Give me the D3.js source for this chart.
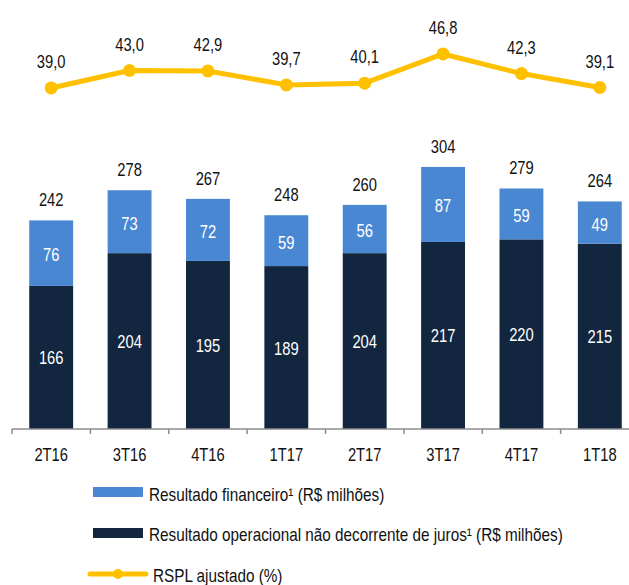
<!DOCTYPE html>
<html>
  <head>
    <meta charset="utf-8" />
    <style>
      body{
        margin: 0;
        background: white;
      }
      text{
        font-family: 'Liberation Sans', Arial, sans-serif;
        font-size: 18px;
      }
    </style>
  </head>
  <body>
    <script src="https://d3js.org/d3.v7.min.js"></script>
    <svg id="chart"></svg>
    <script>
      var quarters = ["2T16", "3T16", "4T16", "1T17", "2T17", "3T17", "4T17", "1T18"];
      var financeiro = [76, 73, 72, 59, 56, 87, 59, 49];
      var operacional = [166, 204, 195, 189, 204, 217, 220, 215];
      var totals = [242, 278, 267, 248, 260, 304, 279, 264];
      var rspl = [39.0, 43.0, 42.9, 39.7, 40.1, 46.8, 42.3, 39.1];
      var legendLabels = [
        "Resultado financeiro¹ (R$ milhões)",
        "Resultado operacional não decorrente de juros¹ (R$ milhões)",
        "RSPL ajustado (%)"
      ];

      var width = 629;
      var height = 585;
      var blue = "#4a87d3";
      var navy = "#13263f";
      var yellow = "#ffc000";

      var svg = d3.select("#chart")
        .attr("width", width)
        .attr("height", height);

      var x = d3.scaleBand()
        .domain(quarters)
        .range([12, 639])
        .paddingInner(0.44)
        .paddingOuter(0.22);

      var y = d3.scaleLinear().domain([0, 350]).range([429, 127.3]);
      var yLine = d3.scaleLinear().domain([30, 50]).range([127.2, 40]);

      var rows = quarters.map(function (q, i) {
        return { q: q, fin: financeiro[i], op: operacional[i], total: totals[i], rspl: rspl[i] };
      });

      var gap = (x.step() - x.bandwidth()) / 2;

      // bars
      svg.selectAll(".op")
        .data(rows)
        .enter()
        .append("rect")
        .attr("x", function (d) { return x(d.q); })
        .attr("y", function (d) { return y(d.op); })
        .attr("width", x.bandwidth())
        .attr("height", function (d) { return y(0) - y(d.op); })
        .attr("fill", navy);

      svg.selectAll(".fin")
        .data(rows)
        .enter()
        .append("rect")
        .attr("x", function (d) { return x(d.q); })
        .attr("y", function (d) { return y(d.op + d.fin); })
        .attr("width", x.bandwidth())
        .attr("height", function (d) { return y(d.op) - y(d.op + d.fin); })
        .attr("fill", blue);

      // labels inside bars
      svg.selectAll(".opLabel")
        .data(rows)
        .enter()
        .append("text")
        .attr("x", function (d) { return x(d.q) + x.bandwidth() / 2; })
        .attr("y", function (d) { return (y(0) + y(d.op)) / 2 + 7; })
        .attr("text-anchor", "middle")
        .attr("fill", "white")
        .text(function (d) { return d.op; });

      svg.selectAll(".finLabel")
        .data(rows)
        .enter()
        .append("text")
        .attr("x", function (d) { return x(d.q) + x.bandwidth() / 2; })
        .attr("y", function (d) { return (y(d.op) + y(d.op + d.fin)) / 2 + 8; })
        .attr("text-anchor", "middle")
        .attr("fill", "white")
        .text(function (d) { return d.fin; });

      svg.selectAll(".totalLabel")
        .data(rows)
        .enter()
        .append("text")
        .attr("x", function (d) { return x(d.q) + x.bandwidth() / 2; })
        .attr("y", function (d) { return y(d.op + d.fin) - 14; })
        .attr("text-anchor", "middle")
        .attr("fill", "#111")
        .text(function (d) { return d.total; });

      // axis
      svg.append("line")
        .attr("x1", 12).attr("x2", 639)
        .attr("y1", 429).attr("y2", 429)
        .attr("stroke", "#8c8c8c")
        .attr("stroke-width", 1.5);

      svg.selectAll(".tick")
        .data(quarters.concat(["end"]))
        .enter()
        .append("line")
        .attr("x1", function (d) { return d == "end" ? 639 : x(d) - gap; })
        .attr("x2", function (d) { return d == "end" ? 639 : x(d) - gap; })
        .attr("y1", 429).attr("y2", 434)
        .attr("stroke", "#8c8c8c")
        .attr("stroke-width", 1.5);

      svg.selectAll(".qLabel")
        .data(quarters)
        .enter()
        .append("text")
        .attr("x", function (d) { return x(d) + x.bandwidth() / 2; })
        .attr("y", 461)
        .attr("text-anchor", "middle")
        .attr("fill", "#111")
        .text(function (d) { return d; });

      // RSPL line
      var line = d3.line()
        .x(function (d) { return x(d.q) + x.bandwidth() / 2; })
        .y(function (d) { return yLine(d.rspl); });

      svg.append("path")
        .datum(rows)
        .attr("d", line)
        .attr("fill", "none")
        .attr("stroke", yellow)
        .attr("stroke-width", 5)
        .attr("stroke-linejoin", "round");

      svg.selectAll(".dot")
        .data(rows)
        .enter()
        .append("circle")
        .attr("cx", function (d) { return x(d.q) + x.bandwidth() / 2; })
        .attr("cy", function (d) { return yLine(d.rspl); })
        .attr("r", 6.5)
        .attr("fill", yellow);

      svg.selectAll(".rsplLabel")
        .data(rows)
        .enter()
        .append("text")
        .attr("x", function (d) { return x(d.q) + x.bandwidth() / 2; })
        .attr("y", function (d) { return yLine(d.rspl) - 20; })
        .attr("text-anchor", "middle")
        .attr("fill", "#111")
        .text(function (d) { return d.rspl.toFixed(1).replace(".", ","); });

      // legend
      var legend = svg.append("g");

      legend.append("rect")
        .attr("x", 93).attr("y", 487)
        .attr("width", 50).attr("height", 10)
        .attr("fill", blue);
      legend.append("text")
        .attr("class", "legendText")
        .attr("x", 149).attr("y", 501)
        .attr("fill", "#111")
        .text(legendLabels[0]);

      legend.append("rect")
        .attr("x", 93).attr("y", 528)
        .attr("width", 50).attr("height", 10)
        .attr("fill", navy);
      legend.append("text")
        .attr("class", "legendText")
        .attr("x", 149).attr("y", 541)
        .attr("fill", "#111")
        .text(legendLabels[1]);

      legend.append("line")
        .attr("x1", 90).attr("x2", 146)
        .attr("y1", 574).attr("y2", 574)
        .attr("stroke", yellow)
        .attr("stroke-width", 5)
        .attr("stroke-linecap", "round");
      legend.append("circle")
        .attr("cx", 118).attr("cy", 574)
        .attr("r", 5)
        .attr("fill", yellow);
      legend.append("text")
        .attr("class", "legendText")
        .attr("x", 153).attr("y", 582)
        .attr("fill", "#111")
        .text(legendLabels[2]);

      // the original uses a narrow face; squeeze Liberation Sans horizontally around its anchor
      svg.selectAll("text").each(function () {
        var ax = +this.getAttribute("x");
        var k = this.classList.contains("legendText") ? 0.85 : 0.82;
        d3.select(this)
          .attr("transform", "translate(" + ax + ",0) scale(" + k + ",1) translate(" + (-ax) + ",0)");
      });
    </script>
  </body>
</html>
